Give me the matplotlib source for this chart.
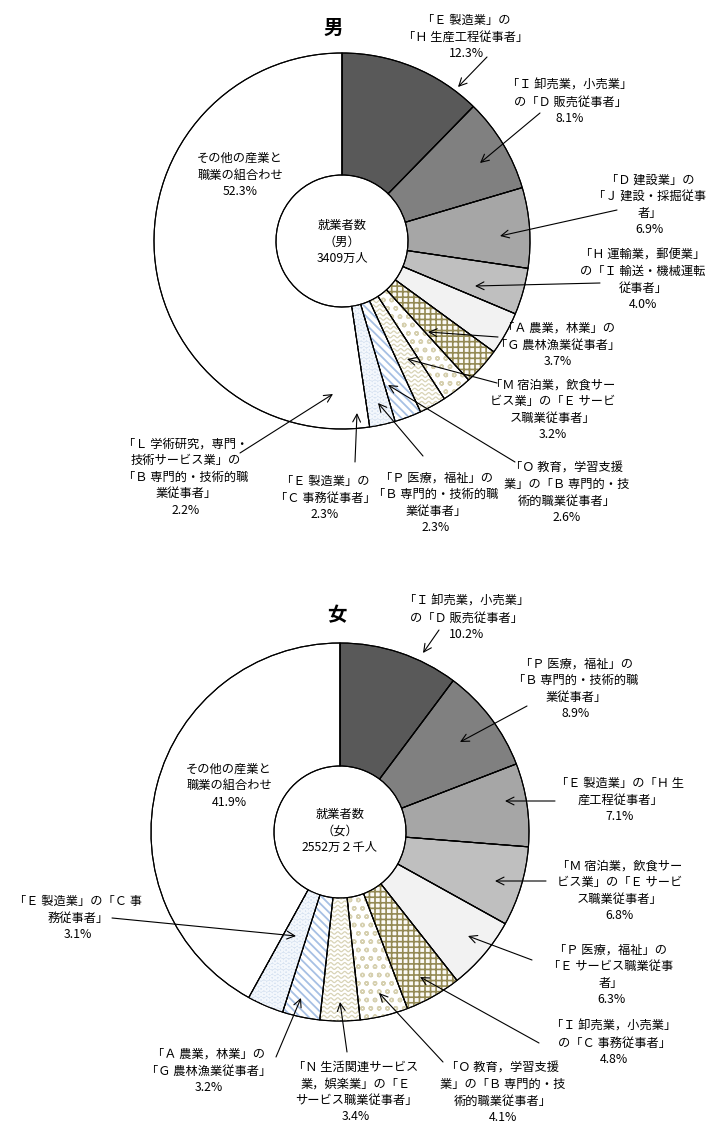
import numpy as np
import matplotlib
matplotlib.use("Agg")
import matplotlib.pyplot as plt
from matplotlib.patches import Wedge

plt.rcParams['font.family'] = ['Noto Sans CJK JP', 'DejaVu Sans']
plt.rcParams['hatch.linewidth'] = 1.0

# ---------------- data ----------------
male_labels = [
    "「Ｅ 製造業」の\n「Ｈ 生産工程従事者」",
    "「Ｉ 卸売業，小売業」\nの「Ｄ 販売従事者」",
    "「Ｄ 建設業」の\n「Ｊ 建設・採掘従事\n者」",
    "「Ｈ 運輸業，郵便業」\nの「Ｉ 輸送・機械運転\n従事者」",
    "「Ａ 農業，林業」の\n「Ｇ 農林漁業従事者」",
    "「Ｍ 宿泊業，飲食サー\nビス業」の「Ｅ サービ\nス職業従事者」",
    "「Ｏ 教育，学習支援\n業」の「Ｂ 専門的・技\n術的職業従事者」",
    "「Ｐ 医療，福祉」の\n「Ｂ 専門的・技術的職\n業従事者」",
    "「Ｅ 製造業」の\n「Ｃ 事務従事者」",
    "「Ｌ 学術研究，専門・\n技術サービス業」の\n「Ｂ 専門的・技術的職\n業従事者」",
    "その他の産業と\n職業の組合わせ",
]
male_values = [12.3, 8.1, 6.9, 4.0, 3.7, 3.2, 2.6, 2.3, 2.3, 2.2, 52.3]

female_labels = [
    "「Ｉ 卸売業，小売業」\nの「Ｄ 販売従事者」",
    "「Ｐ 医療，福祉」の\n「Ｂ 専門的・技術的職\n業従事者」",
    "「Ｅ 製造業」の「Ｈ 生\n産工程従事者」",
    "「Ｍ 宿泊業，飲食サー\nビス業」の「Ｅ サービ\nス職業従事者」",
    "「Ｐ 医療，福祉」の\n「Ｅ サービス職業従事\n者」",
    "「Ｉ 卸売業，小売業」\nの「Ｃ 事務従事者」",
    "「Ｏ 教育，学習支援\n業」の「Ｂ 専門的・技\n術的職業従事者」",
    "「Ｎ 生活関連サービス\n業，娯楽業」の「Ｅ\nサービス職業従事者」",
    "「Ａ 農業，林業」の\n「Ｇ 農林漁業従事者」",
    "「Ｅ 製造業」の「Ｃ 事\n務従事者」",
    "その他の産業と\n職業の組合わせ",
]
female_values = [10.2, 8.9, 7.1, 6.8, 6.3, 4.8, 4.1, 3.4, 3.2, 3.1, 41.9]

male_title = "男"
female_title = "女"
male_center_text = "就業者数\n（男）\n3409万人"
female_center_text = "就業者数\n（女）\n2552万２千人"

# ---------------- styles / layout (pixels, y from top) ----------------
W, H = 716, 1126
# slice styles in clockwise order
styles = ['c1', 'c2', 'c3', 'c4', 'c5', 'check', 'dots', 'wave', 'stripe', 'circle', 'white']

male_layout = [
    (466, 37, (487, 57), (458, 87)),
    (570, 102, (540, 113), (480, 163)),
    (650, 205, (617, 210), (500, 236)),
    (643, 280, (600, 283), (475, 286)),
    (558, 345, (498, 337), (428, 332)),
    (553, 410, (497, 383), (407, 359)),
    (567, 493, (515, 462), (388, 385)),
    (436, 503, (423, 456), (378, 403)),
    (325, 498, (355, 462), (357, 413)),
    (186, 477, (240, 453), (333, 394)),
    (240, 175, None, None),
]
female_layout = [
    (467, 618, (439, 630), (423, 653)),
    (576, 689, (527, 706), (460, 742)),
    (620, 800, (555, 801), (505, 801)),
    (620, 891, (546, 881), (495, 881)),
    (611, 975, (532, 960), (468, 936)),
    (614, 1043, (539, 1043), (420, 977)),
    (503, 1093, (443, 1062), (379, 993)),
    (356, 1092, (347, 1052), (340, 1002)),
    (209, 1071, (276, 1057), (301, 998)),
    (78, 918, (112, 918), (296, 936)),
    (229, 786, None, None),
]


def Y(y):
    return H - y


fig = plt.figure(figsize=(W / 100, H / 100), dpi=100)
ax = fig.add_axes([0, 0, 1, 1])

FS = 8.8
LS = 1.36

FACES = {'c1': '#595959', 'c2': '#808080', 'c3': '#a6a6a6', 'c4': '#bfbfbf',
         'c5': '#f2f2f2', 'check': '#fbfaf5', 'dots': '#ffffff',
         'wave': '#ffffff', 'stripe': '#ffffff', 'circle': '#d9e4f2',
         'white': '#ffffff'}
HATCHES = {'check': ('+++', '#948a54', 1.2),
           'dots': ('oo', '#d6d0b0', 1.0),
           'stripe': ('\\\\\\\\', '#a7c0e4', 1.3),
           'circle': ('OOO', '#f3f7fc', 1.0)}


def draw_wave(ax, wedge, color):
    cx, cy = wedge.center
    r = wedge.r
    xs = np.linspace(cx - r, cx + r, 1500)
    for yy in np.arange(cy - r, cy + r, 4.4):
        ln, = ax.plot(xs, yy + 1.2 * np.sin(2 * np.pi * xs / 7.0),
                      color=color, lw=0.9, zorder=1.5)
        ln.set_clip_path(wedge)


def draw_pie(values, labels, layout, center_px, radius, inner, title, title_pos, ctext, cpos):
    cx, cy = center_px[0], Y(center_px[1])
    wedges, _ = ax.pie(values, center=(cx, cy), radius=radius, startangle=90,
                       counterclock=False,
                       wedgeprops=dict(width=radius - inner, edgecolor='black',
                                       linewidth=0.8))
    for w, st in zip(wedges, styles):
        w.set_facecolor(FACES[st])
        if st in HATCHES:
            hatch, hc, hlw = HATCHES[st]
            with plt.rc_context({'hatch.linewidth': hlw}):
                ov = Wedge(w.center, w.r, w.theta1, w.theta2, width=w.width,
                           fill=False, hatch=hatch, edgecolor=hc, lw=0, zorder=1.5)
                ax.add_patch(ov)
        if st == 'wave':
            draw_wave(ax, w, '#d8d3b6')
        outline = Wedge(w.center, w.r, w.theta1, w.theta2, width=w.width,
                        fill=False, edgecolor='black', lw=0.8, zorder=2)
        ax.add_patch(outline)

    for lab, v, (tx, ty, start, tip) in zip(labels, values, layout):
        ax.text(tx, Y(ty), f"{lab}\n{v:.1f}%", ha='center', va='center',
                multialignment='center', fontsize=FS, linespacing=LS, zorder=5)
        if start is not None:
            ax.annotate('', xy=(tip[0], Y(tip[1])), xytext=(start[0], Y(start[1])),
                        arrowprops=dict(arrowstyle='->', lw=0.8, color='black',
                                        shrinkA=0, shrinkB=0, mutation_scale=14),
                        zorder=6)
    ax.text(title_pos[0], Y(title_pos[1]), title, ha='center', va='center',
            fontsize=14, fontweight='bold')
    ax.text(cpos[0], Y(cpos[1]), ctext, ha='center', va='center',
            multialignment='center', fontsize=FS, linespacing=LS, zorder=5)


draw_pie(male_values, male_labels, male_layout, (342, 241), 188, 66,
         male_title, (333, 28), male_center_text, (342, 242))
draw_pie(female_values, female_labels, female_layout, (340, 832), 189, 66,
         female_title, (337, 616), female_center_text, (340, 831))

ax.set_xlim(0, W)
ax.set_ylim(0, H)
ax.set_aspect('auto')
ax.axis('off')
fig.savefig('out.png', dpi=100)
